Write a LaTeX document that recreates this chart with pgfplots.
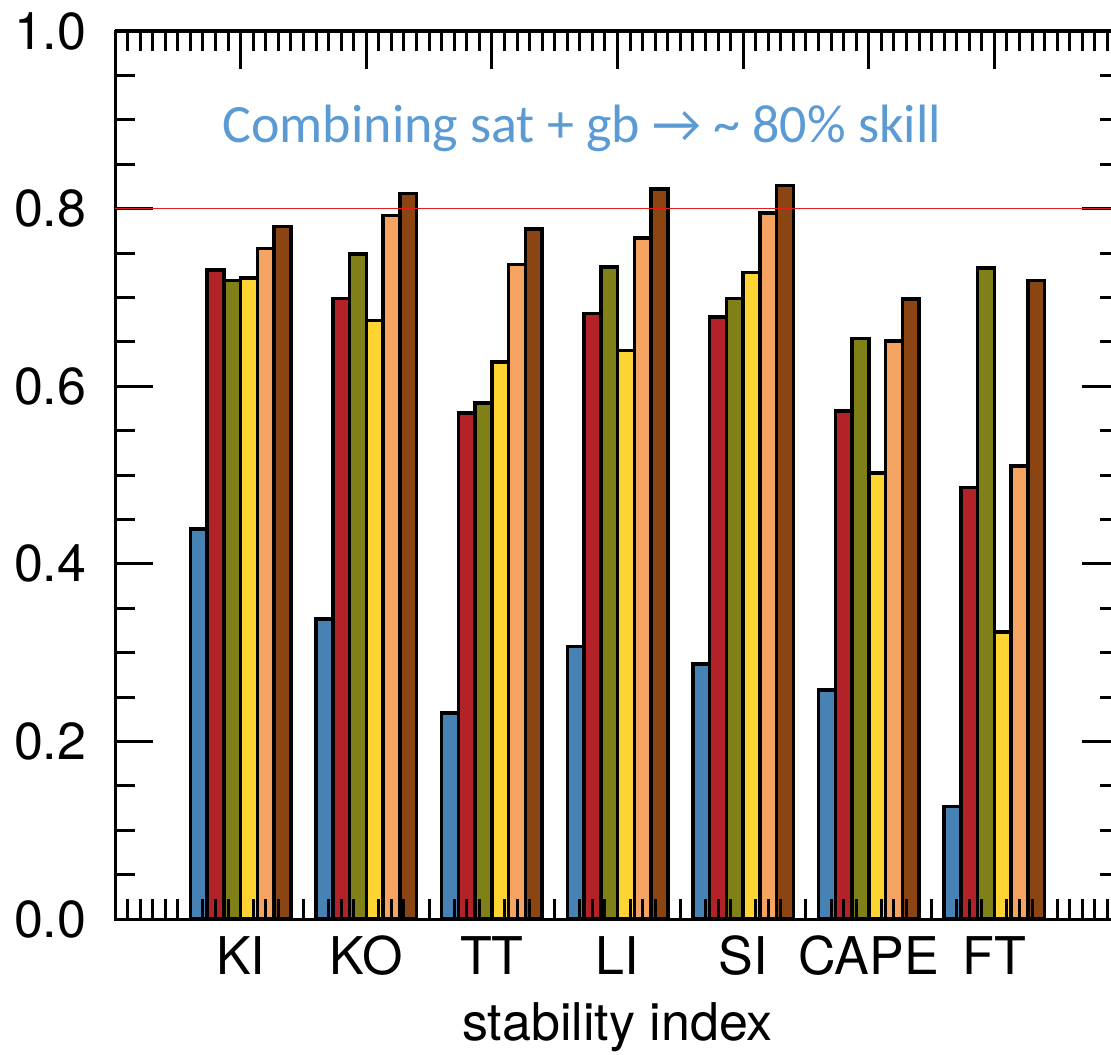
\documentclass[border=0pt]{standalone}
\usepackage{fontspec}
\setmainfont{TeX Gyre Heros}
\newfontfamily\carlito{Carlito}
\usepackage{pgfplots}
\pgfplotsset{compat=1.18}
\definecolor{cblue}{HTML}{4682B4}
\definecolor{cred}{HTML}{B22228}
\definecolor{colive}{HTML}{808018}
\definecolor{cgold}{HTML}{FDD431}
\definecolor{corange}{HTML}{F4A460}
\definecolor{cbrown}{HTML}{8B4513}
\definecolor{annot}{HTML}{5B9BD5}
\definecolor{refred}{HTML}{E0201C}
\begin{document}
\begin{tikzpicture}
\begin{axis}[
  scale only axis, width=301.5pt, height=266.4pt,
  xmin=0, xmax=8, ymin=0, ymax=1,
  ybar=0pt, bar width=0.1333,
  axis on top,
  xtick={0,1,2,3,4,5,6,7,8}, xticklabels={,KI,KO,TT,LI,SI,CAPE,FT,},
  minor x tick num=9,
  ytick={0,0.2,0.4,0.6,0.8,1},
  minor y tick num=3,
  tick align=inside,
  major tick length=11.4pt, minor tick length=6pt,
  every tick/.style={black, line width=0.9pt},
  major x tick style={draw=none},
  axis line style={line width=0.9pt},
  tick label style={font=\fontsize{15.6}{18}\selectfont},
  /pgf/number format/assume math mode=true,
  yticklabel style={anchor=east, inner sep=0pt, xshift=-8.4pt,
    /pgf/number format/fixed, /pgf/number format/fixed zerofill,
    /pgf/number format/precision=1},
  xticklabel style={anchor=base, inner sep=0pt, yshift=-16.5pt},
  xlabel={stability index},
  xlabel style={at={(axis description cs:0.5,0)}, anchor=base, yshift=-36.3pt,
    inner sep=0pt, font=\fontsize{15.6}{18}\selectfont},
]
\addplot[fill=cblue, draw=black, line width=1.05pt] coordinates {(1,0.439) (2,0.338) (3,0.232) (4,0.307) (5,0.287) (6,0.258) (7,0.127)};
\addplot[fill=cred, draw=black, line width=1.05pt] coordinates {(1,0.731) (2,0.699) (3,0.570) (4,0.682) (5,0.678) (6,0.572) (7,0.486)};
\addplot[fill=colive, draw=black, line width=1.05pt] coordinates {(1,0.719) (2,0.749) (3,0.581) (4,0.734) (5,0.699) (6,0.654) (7,0.733)};
\addplot[fill=cgold, draw=black, line width=1.05pt] coordinates {(1,0.722) (2,0.674) (3,0.627) (4,0.640) (5,0.728) (6,0.502) (7,0.323)};
\addplot[fill=corange, draw=black, line width=1.05pt] coordinates {(1,0.755) (2,0.792) (3,0.737) (4,0.767) (5,0.795) (6,0.651) (7,0.510)};
\addplot[fill=cbrown, draw=black, line width=1.05pt] coordinates {(1,0.780) (2,0.817) (3,0.777) (4,0.822) (5,0.826) (6,0.698) (7,0.719)};
\node[anchor=base west, inner sep=0pt, text=annot, font=\carlito\fontsize{16.2}{19}\selectfont] at (axis cs:0.851,0.874) {Combining sat + gb → \textasciitilde{} 80\% skill};
\end{axis}
\begin{axis}[
  scale only axis, width=301.5pt, height=266.4pt,
  xmin=0, xmax=8, ymin=0, ymax=1,
  axis x line*=top, axis y line=none,
  xtick={0,1,2,3,4,5,6,7,8}, xticklabels={}, ytick=\empty,
  minor x tick num=0,
  tick align=inside,
  major tick length=11.4pt,
  every tick/.style={black, line width=0.9pt},
  axis line style={line width=0.9pt},
]
\addplot[refred, line width=0.5pt] coordinates {(0,0.8) (8,0.8)};
\end{axis}
\pgfresetboundingbox
\path[use as bounding box] ([xshift=-34.5pt,yshift=-40.5pt]current axis.south west) rectangle ([xshift=-2.7pt,yshift=9.3pt]current axis.north east);
\end{tikzpicture}
\end{document}
